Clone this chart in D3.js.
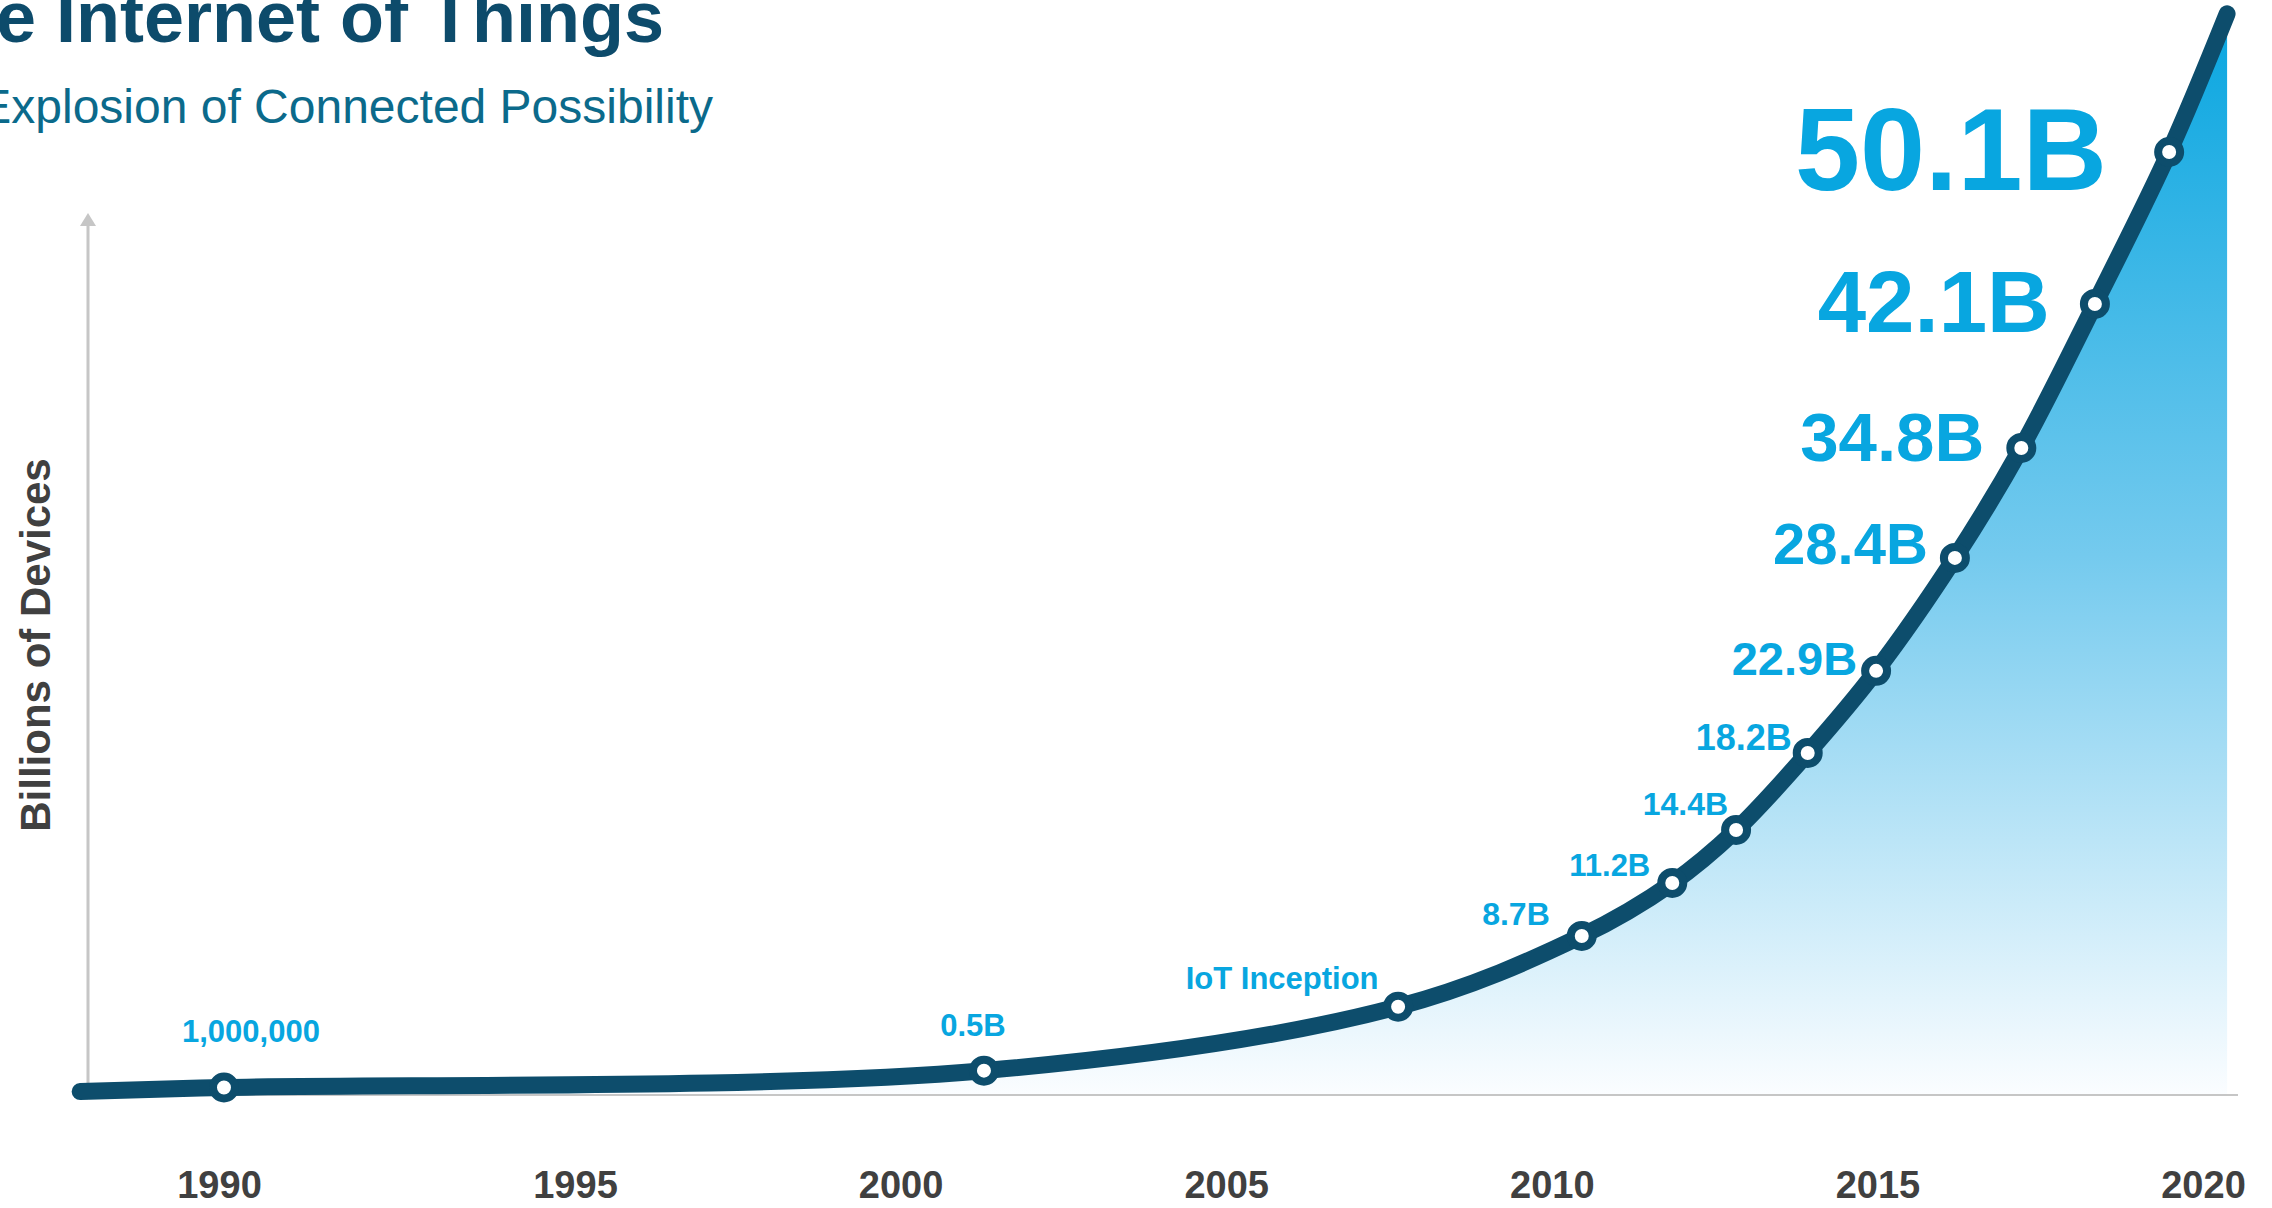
<!DOCTYPE html>
<html>
<head>
<meta charset="utf-8">
<script src="https://cdn.jsdelivr.net/npm/d3@7"></script>
<style>
  html, body { margin: 0; padding: 0; background: #ffffff; overflow: hidden; }
  svg { display: block; font-family: "Liberation Sans", Arial, Helvetica, sans-serif; }
</style>
</head>
<body>
<svg id="chart" width="2272" height="1208"></svg>
<script>
// ---------------- data ----------------
const titleText = "The Internet of Things";
const subtitleText = "Explosion of Connected Possibility";
const yAxisTitle = "Billions of Devices";
const tickYears = [1990, 1995, 2000, 2005, 2010, 2015, 2020];
// curve points (x in years, y in billions of devices as drawn)
const curveYears  = [1988.05, 1990.07, 2001.28, 2007.64, 2010.46, 2011.85, 2012.83, 2013.93, 2014.98, 2016.19, 2017.21, 2018.34, 2019.48, 2020.37];
const curveValues = [0.45, 0.66, 1.55, 4.93, 8.67, 11.47, 14.27, 18.34, 22.68, 28.65, 34.46, 42.07, 50.1, 57.4];
// marked points (index into the curve arrays) and their labels
const markerIndex = [1, 2, 3, 4, 5, 6, 7, 8, 9, 10, 11, 12];
const markerLabels = ["1,000,000", "0.5B", "IoT Inception", "8.7B", "11.2B", "14.4B", "18.2B", "22.9B", "28.4B", "34.8B", "42.1B", "50.1B"];

// ---------------- layout / style ----------------
const W = 2272, H = 1208;
const baseY = 1095, axisX = 88, axisTop = 213, axisRight = 2238;
const colors = {
  title: "#0d4b6b", subtitle: "#0b6a8b", line: "#0d4d6c", label: "#08a6e0",
  axis: "#c6c6c6", axisText: "#404040"
};
// label style: [anchor, dx, dy, fontSize]
const labelStyle = [
  ["middle", 27, -46, 31],
  ["middle", -11, -35, 31],
  ["middle", -116, -18, 31],
  ["end", -32, -11, 32],
  ["end", -22, -7, 31],
  ["end", -8, -15, 32],
  ["end", -16, -3, 36],
  ["end", -19, 4, 47],
  ["end", -27, 6, 58],
  ["end", -37, 13, 69],
  ["end", -45, 28, 87],
  ["end", -62, 38, 117]
];

const svg = d3.select("#chart");

// piecewise-linear year scale (1990 label is set slightly apart in the original)
const x = d3.scaleLinear().domain([1990, 1995, 2020]).range([219, 575, 2203]);
const y = d3.scaleLinear().domain([0, 50.1]).range([1100, 152]);

const pts = curveYears.map((yr, i) => ({ yr, v: curveValues[i] }));

// gradient
const defs = svg.append("defs");
const grad = defs.append("linearGradient")
  .attr("id", "fillGrad").attr("gradientUnits", "userSpaceOnUse")
  .attr("x1", 0).attr("x2", 0).attr("y1", y(curveValues[curveValues.length - 1])).attr("y2", baseY);
grad.append("stop").attr("offset", "0%").attr("stop-color", "#09a6e0");
grad.append("stop").attr("offset", "50%").attr("stop-color", "#74caee");
grad.append("stop").attr("offset", "100%").attr("stop-color", "#fbfdff");

// titles
svg.append("text")
  .attr("x", 664).attr("y", 42)
  .attr("text-anchor", "end")
  .attr("font-size", 72).attr("font-weight", "bold")
  .attr("fill", colors.title)
  .text(titleText);

svg.append("text")
  .attr("x", 713).attr("y", 123)
  .attr("text-anchor", "end")
  .attr("font-size", 48)
  .attr("fill", colors.subtitle)
  .text(subtitleText);

// area
const curve = d3.curveCatmullRom.alpha(0.5);
const area = d3.area()
  .x(d => x(d.yr)).y0(baseY).y1(d => y(d.v)).curve(curve);
svg.append("path").datum(pts)
  .attr("d", area).attr("fill", "url(#fillGrad)");

// axes
svg.append("line")
  .attr("x1", axisX).attr("x2", axisRight).attr("y1", baseY).attr("y2", baseY)
  .attr("stroke", colors.axis).attr("stroke-width", 2);
svg.append("line")
  .attr("x1", axisX).attr("x2", axisX).attr("y1", baseY).attr("y2", axisTop + 10)
  .attr("stroke", colors.axis).attr("stroke-width", 3);
svg.append("path")
  .attr("d", `M${axisX - 8},${axisTop + 13} L${axisX},${axisTop} L${axisX + 8},${axisTop + 13} Z`)
  .attr("fill", colors.axis);

svg.append("text")
  .attr("transform", `translate(50,645) rotate(-90)`)
  .attr("text-anchor", "middle")
  .attr("font-size", 42).attr("font-weight", "bold")
  .attr("fill", colors.axisText)
  .text(yAxisTitle);

// year ticks via d3 axis
const xAxis = d3.axisBottom(x).tickValues(tickYears).tickFormat(d3.format("d")).tickSize(0).tickPadding(0);
const gx = svg.append("g").attr("transform", `translate(0,${baseY})`).call(xAxis);
gx.select(".domain").remove();
gx.selectAll("text")
  .attr("dy", null)
  .attr("y", 103)
  .attr("font-size", 38).attr("font-weight", "bold")
  .attr("font-family", '"Liberation Sans", Arial, sans-serif')
  .attr("fill", colors.axisText);

// line
const line = d3.line().x(d => x(d.yr)).y(d => y(d.v)).curve(curve);
svg.append("path").datum(pts)
  .attr("d", line)
  .attr("fill", "none")
  .attr("stroke", colors.line)
  .attr("stroke-width", 17)
  .attr("stroke-linecap", "round")
  .attr("stroke-linejoin", "round");

// markers
const markers = markerIndex.map((idx, i) => ({ p: pts[idx], label: markerLabels[i], st: labelStyle[i] }));
svg.append("g").selectAll("circle").data(markers).join("circle")
  .attr("cx", d => x(d.p.yr)).attr("cy", d => y(d.p.v))
  .attr("r", 11)
  .attr("fill", "#ffffff")
  .attr("stroke", colors.line).attr("stroke-width", 8);

svg.append("g").selectAll("text").data(markers).join("text")
  .attr("x", d => x(d.p.yr) + d.st[1])
  .attr("y", d => y(d.p.v) + d.st[2])
  .attr("text-anchor", d => d.st[0])
  .attr("font-size", d => d.st[3])
  .attr("font-weight", "bold")
  .attr("fill", colors.label)
  .text(d => d.label);
</script>
</body>
</html>
